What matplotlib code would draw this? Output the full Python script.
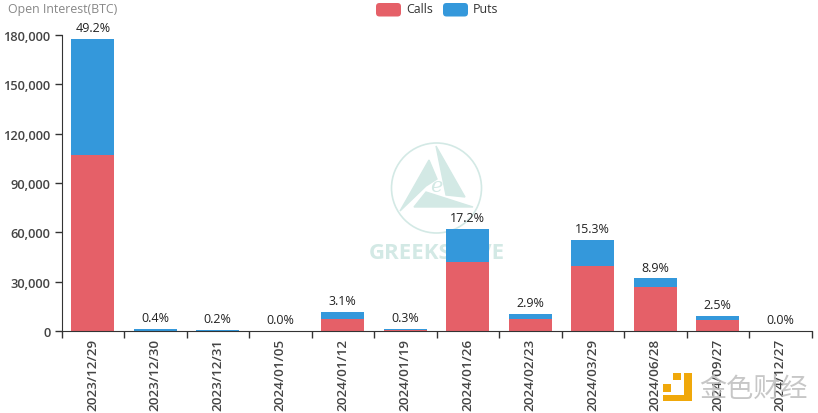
import matplotlib
matplotlib.use('Agg')
import matplotlib.pyplot as plt
from matplotlib.patches import Circle, Polygon, FancyBboxPatch, Rectangle

plt.rcParams['font.family'] = ['Open Sans', 'Noto Sans CJK SC', 'DejaVu Sans']

dates = ['2023/12/29', '2023/12/30', '2023/12/31', '2024/01/05', '2024/01/12', '2024/01/19',
         '2024/01/26', '2024/02/23', '2024/03/29', '2024/06/28', '2024/09/27', '2024/12/27']
calls = [107000, 300, 200, 20, 7300, 500, 41800, 7300, 39600, 26600, 6500, 20]
puts = [70500, 1100, 500, 20, 4200, 600, 20200, 3100, 15700, 5400, 2500, 20]
share = ['49.2%', '0.4%', '0.2%', '0.0%', '3.1%', '0.3%', '17.2%', '2.9%', '15.3%', '8.9%', '2.5%', '0.0%']
yticks = [0, 30000, 60000, 90000, 120000, 150000, 180000]

W, H = 818, 414
RED = '#e56068'
BLUE = '#3498db'
AXIS = '#333333'
MARK = '#d3e9e5'

fig = plt.figure(figsize=(W / 100, H / 100), dpi=100)
ax = fig.add_axes([61.5 / W, 1 - 332 / H, 750 / W, 296 / H])

# watermark goes under the bars, pixel coords
bg = fig.add_axes([0, 0, 1, 1], zorder=-1)
bg.set_xlim(0, W)
bg.set_ylim(H, 0)
bg.axis('off')
bg.add_patch(Circle((436.5, 189), 45, fill=False, ec=MARK, lw=1.2))
bg.add_patch(Polygon([[436, 147], [465, 198], [446, 196]], color=MARK))
bg.add_patch(Polygon([[429, 161], [437, 180], [426, 187], [400, 212]], color=MARK))
bg.add_patch(Polygon([[426, 193], [473, 208], [414, 208]], color=MARK))
bg.text(436, 187, 'e', color=MARK, fontsize=15, style='italic', ha='center', va='center', family='DejaVu Serif')
bg.text(436.5, 254, 'GREEKS.LIVE', color=MARK, fontsize=16, fontweight='bold', ha='center', va='center')

x = range(len(dates))
ax.bar(x, calls, width=0.69, color=RED, label='Calls')
ax.bar(x, puts, width=0.69, bottom=calls, color=BLUE, label='Puts')

for i, s in enumerate(share):
    ax.annotate(s, (i, calls[i] + puts[i]), xytext=(0, 3.5), textcoords='offset points',
                ha='center', va='bottom', fontsize=9, color='#222222')

ax.patch.set_alpha(0)
ax.set_xlim(-0.5, 11.5)
ax.set_ylim(0, 180000)
ax.set_yticks(yticks)
ax.set_yticklabels([f'{v:,}' for v in yticks], fontsize=9.3, fontweight='semibold', color='#444444')
ax.set_xticks([i - 0.5 for i in range(13)])
ax.set_xticklabels([])
ax.set_xticks(list(x), minor=True)
ax.set_xticklabels(dates, minor=True, rotation=90, fontsize=9.6, fontweight='semibold', color='#444444')
ax.tick_params(axis='x', which='major', length=5, width=1, color=AXIS)
ax.tick_params(axis='x', which='minor', length=0, pad=5)
ax.tick_params(axis='y', length=5, width=1, color=AXIS, pad=3)
for side in ['top', 'right']:
    ax.spines[side].set_visible(False)
for side in ['left', 'bottom']:
    ax.spines[side].set_color(AXIS)

# overlay in pixel coords: axis title, legend, corner logo
top = fig.add_axes([0, 0, 1, 1], zorder=5)
top.set_xlim(0, W)
top.set_ylim(H, 0)
top.axis('off')
top.text(8, 9, 'Open Interest(BTC)', fontsize=8.9, color='#888888', va='center')
top.add_patch(FancyBboxPatch((376, 4), 25, 13.5, boxstyle='round,pad=0,rounding_size=3.5', fc=RED, ec='none'))
top.text(406, 9.5, 'Calls', fontsize=8.9, color='#333333', va='center')
top.add_patch(FancyBboxPatch((443, 4), 25, 13.5, boxstyle='round,pad=0,rounding_size=3.5', fc=BLUE, ec='none'))
top.text(473, 9.5, 'Puts', fontsize=8.9, color='#333333', va='center')

GOLD = '#f0a80a'
top.add_patch(Rectangle((663, 385), 8, 8, fc=GOLD, ec='none'))
top.add_patch(Rectangle((673, 374), 8, 7, fc=GOLD, ec='none'))
top.add_patch(Rectangle((684, 374), 8, 28, fc=GOLD, ec='none'))
top.add_patch(Rectangle((663, 396), 29, 6, fc=GOLD, ec='none'))
top.text(753, 389, '金色财经', fontsize=19.5, color='#bdbdbd', alpha=0.85, ha='center', va='center',
         family=['Noto Sans CJK SC', 'DejaVu Sans'])

fig.savefig('out.png', dpi=100, facecolor='white')
